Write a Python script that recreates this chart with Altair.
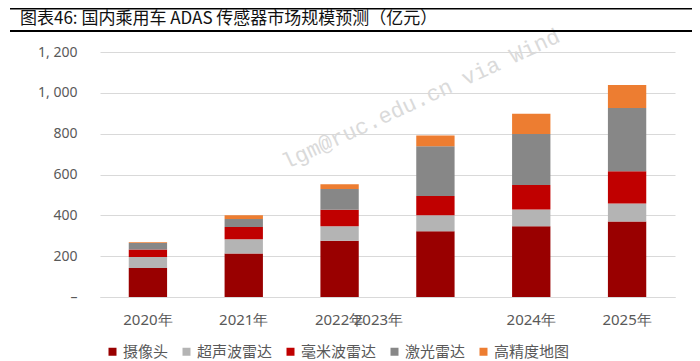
import altair as alt
import pandas as pd

years = ["2020年", "2021年", "2022年", "2023年", "2024年", "2025年"]
series = ["摄像头", "超声波雷达", "毫米波雷达", "激光雷达", "高精度地图"]
camera = [142, 213, 275, 322, 346, 370]
ultrasonic = [54, 70, 71, 78, 83, 88]
mmwave = [37, 60, 81, 95, 119, 158]
lidar = [32, 39, 102, 243, 250, 310]
hdmap = [3, 19, 23, 53, 99, 112]
colors = ["#990000", "#b4b4b4", "#c00000", "#878787", "#ed7d31"]
y_ticks = [0, 200, 400, 600, 800, 1000, 1200]
title_text = "图表46:  国内乘用车 ADAS 传感器市场规模预测（亿元）"
watermark = "lgm@ruc.edu.cn via Wind"

rows = []
for si, (name, vals) in enumerate(zip(series, [camera, ultrasonic, mmwave, lidar, hdmap])):
    for y, v in zip(years, vals):
        rows.append({"year": y, "series": name, "value": v, "idx": si})
df = pd.DataFrame(rows)
lab = pd.DataFrame({"year": years})

W, H = 575, 245
FONT = "Noto Sans CJK SC"

xscale = alt.Scale(domain=years, paddingInner=0.6, paddingOuter=0.3)

bars = alt.Chart(df).mark_bar().encode(
    x=alt.X("year:N", scale=xscale, sort=years,
            axis=alt.Axis(title=None, labels=False, ticks=False, domainColor="#d9d9d9")),
    y=alt.Y("sum(value):Q", stack="zero",
            scale=alt.Scale(domain=[0, 1200], nice=False),
            axis=alt.Axis(title=None, values=y_ticks, domain=False, ticks=False,
                          gridColor="#d9d9d9", labelPadding=23, labelFontSize=14,
                          labelColor="#595959", labelFont="Noto Sans",
                          labelExpr="datum.value == 0 ? '–\u2002\u2002' : replace(format(datum.value, ','), ',', ', ')")),
    color=alt.Color("series:N", scale=alt.Scale(domain=series, range=colors),
                    legend=alt.Legend(title=None, orient="none", legendX=5, legendY=292,
                                      direction="horizontal", symbolType="square",
                                      symbolSize=64, symbolStrokeWidth=0,
                                      labelFontSize=15, labelFont=FONT, labelColor="#595959",
                                      columnPadding=10, labelOffset=3, padding=0)),
    order=alt.Order("idx:Q", sort="ascending"),
)

xlabels = alt.Chart(lab).transform_filter("datum.year != '2023年'").mark_text(
    fontSize=15, font="Noto Sans", color="#595959", baseline="middle"
).encode(x=alt.X("year:N", scale=xscale, sort=years), y=alt.value(H + 23), text="year:N")

xlabel23 = alt.Chart(lab).transform_filter("datum.year == '2023年'").mark_text(
    fontSize=15, font="Noto Sans", color="#595959", baseline="middle", dx=-57
).encode(x=alt.X("year:N", scale=xscale, sort=years), y=alt.value(H + 23), text="year:N")

one = alt.Data(values=[{}])

top_line = alt.Chart(one).mark_rule(color="#000000", strokeWidth=1.5, clip=False).encode(
    x=alt.value(-90), x2=alt.value(600), y=alt.value(-43.2))
bottom_line = alt.Chart(one).mark_rule(color="#000000", strokeWidth=2.2, clip=False).encode(
    x=alt.value(-90), x2=alt.value(600), y=alt.value(-21))
title = alt.Chart(one).mark_text(align="left", baseline="middle", fontSize=17, font=FONT,
                                 color="#111111").encode(
    x=alt.value(-80), y=alt.value(-33), text=alt.value(title_text))
wm = alt.Chart(one).mark_text(align="center", baseline="middle", fontSize=22,
                              font="Liberation Mono", color="#dadada", angle=335).encode(
    x=alt.value(321), y=alt.value(47), text=alt.value(watermark))

chart = alt.layer(wm, bars, xlabels, xlabel23, top_line, bottom_line, title).properties(
    width=W, height=H,
    padding={"left": 92, "top": 44, "right": 17, "bottom": 64},
    autosize=alt.AutoSizeParams(type="none"),
).configure_view(stroke=None)

chart.save("out.html", embed_options={"renderer": "svg", "actions": False})
